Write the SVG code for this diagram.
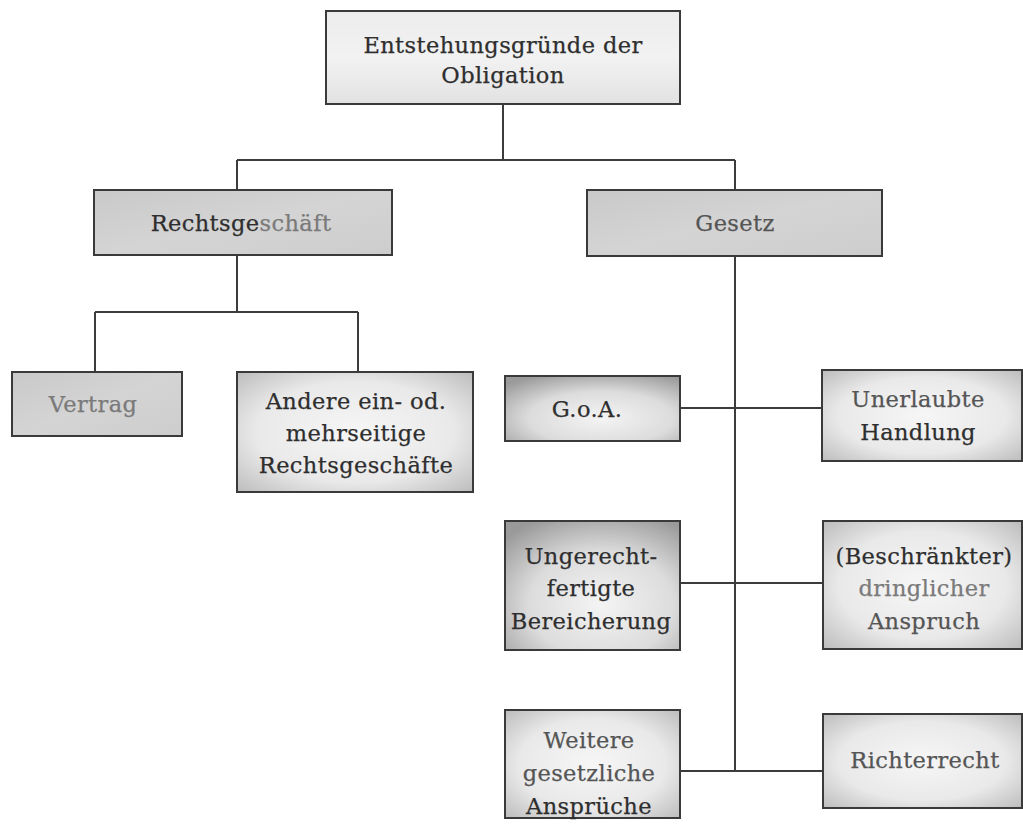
<svg xmlns="http://www.w3.org/2000/svg" width="1023" height="824" viewBox="0 0 1023 824">
  <style>
    .box { stroke: #3a3a3a; stroke-width: 2; }
    .t { font-family: "DejaVu Serif", "Liberation Serif", serif; font-size: 22.5px; letter-spacing: 0.4px; fill: #2e2e2e; stroke: #2e2e2e; stroke-width: 0.25; text-anchor: middle; }
    .soft { fill: #7a7a7a; stroke: #7a7a7a; }
    .mid { fill: #555555; stroke: #555555; }
    .conn { stroke: #3c3c3c; stroke-width: 2; fill: none; }
  </style>
  <defs>
    <radialGradient id="lightFill" cx="50%" cy="50%" r="70%">
      <stop offset="0" stop-color="#f6f6f6"/>
      <stop offset="0.6" stop-color="#e9e9e9"/>
      <stop offset="1" stop-color="#bdbdbd"/>
    </radialGradient>
    <radialGradient id="darkCorner" cx="55%" cy="65%" r="75%">
      <stop offset="0" stop-color="#f4f4f4"/>
      <stop offset="0.55" stop-color="#dcdcdc"/>
      <stop offset="1" stop-color="#9a9a9a"/>
    </radialGradient>
    <linearGradient id="midFill" x1="0" y1="0" x2="1" y2="1">
      <stop offset="0" stop-color="#c9c9c9"/>
      <stop offset="0.5" stop-color="#d4d4d4"/>
      <stop offset="1" stop-color="#cdcdcd"/>
    </linearGradient>
    <linearGradient id="topFill" x1="0" y1="0" x2="0" y2="1">
      <stop offset="0" stop-color="#ececec"/>
      <stop offset="0.5" stop-color="#f2f2f2"/>
      <stop offset="1" stop-color="#e2e2e2"/>
    </linearGradient>
  </defs>

  <rect width="1023" height="824" fill="#ffffff"/>

  <!-- connectors -->
  <g id="connectors">
    <path class="conn" d="M503 104 V160 M237 160 H735 M237 160 V190 M735 160 V190"/>
    <path class="conn" d="M237 255 V312 M95 312 H358 M95 312 V372 M358 312 V372"/>
    <path class="conn" d="M735 257 V771"/>
    <path class="conn" d="M680 408 H822"/>
    <path class="conn" d="M680 583 H823"/>
    <path class="conn" d="M680 771 H823"/>
  </g>

  <g id="node-obligation">
    <rect class="box" x="326" y="11" width="354" height="93" fill="url(#topFill)"/>
    <text class="t" x="503" y="53">Entstehungsgründe der</text>
    <text class="t" x="503" y="83">Obligation</text>
  </g>

  <g id="node-rechtsgeschaeft">
    <rect class="box" x="94" y="190" width="298" height="65" fill="url(#midFill)"/>
    <text class="t" x="241" y="231">Rechtsge<tspan class="soft">schäft</tspan></text>
  </g>

  <g id="node-gesetz">
    <rect class="box" x="587" y="190" width="295" height="66" fill="url(#midFill)"/>
    <text class="t mid" x="735" y="231">Gesetz</text>
  </g>

  <g id="node-vertrag">
    <rect class="box" x="12" y="372" width="170" height="64" fill="url(#midFill)"/>
    <text class="t soft" x="93" y="412">Vertrag</text>
  </g>

  <g id="node-andere">
    <rect class="box" x="237" y="372" width="236" height="120" fill="url(#lightFill)"/>
    <text class="t" x="356" y="409">Andere ein- od.</text>
    <text class="t" x="356" y="441">mehrseitige</text>
    <text class="t" x="356" y="473">Rechtsgeschäfte</text>
  </g>

  <g id="node-goa">
    <rect class="box" x="505" y="376" width="175" height="65" fill="url(#darkCorner)"/>
    <text class="t" x="587" y="417">G.o.A.</text>
  </g>

  <g id="node-unerlaubte">
    <rect class="box" x="822" y="370" width="200" height="91" fill="url(#lightFill)"/>
    <text class="t mid" x="918" y="407">Unerlaubte</text>
    <text class="t" x="918" y="440">Handlung</text>
  </g>

  <g id="node-bereicherung">
    <rect class="box" x="505" y="521" width="175" height="129" fill="url(#darkCorner)"/>
    <text class="t" x="591" y="564">Ungerecht-</text>
    <text class="t" x="591" y="596">fertigte</text>
    <text class="t" x="591" y="629">Bereicherung</text>
  </g>

  <g id="node-anspruch">
    <rect class="box" x="823" y="521" width="199" height="128" fill="url(#lightFill)"/>
    <text class="t" x="924" y="564">(Beschränkter)</text>
    <text class="t soft" x="924" y="596">dringlicher</text>
    <text class="t mid" x="924" y="629">Anspruch</text>
  </g>

  <g id="node-weitere">
    <rect class="box" x="505" y="710" width="175" height="108" fill="url(#lightFill)"/>
    <text class="t mid" x="589" y="748">Weitere</text>
    <text class="t mid" x="589" y="781">gesetzliche</text>
    <text class="t" x="589" y="814">Ansprüche</text>
  </g>

  <g id="node-richterrecht">
    <rect class="box" x="823" y="714" width="199" height="94" fill="url(#lightFill)"/>
    <text class="t mid" x="925" y="768">Richterrecht</text>
  </g>
</svg>
